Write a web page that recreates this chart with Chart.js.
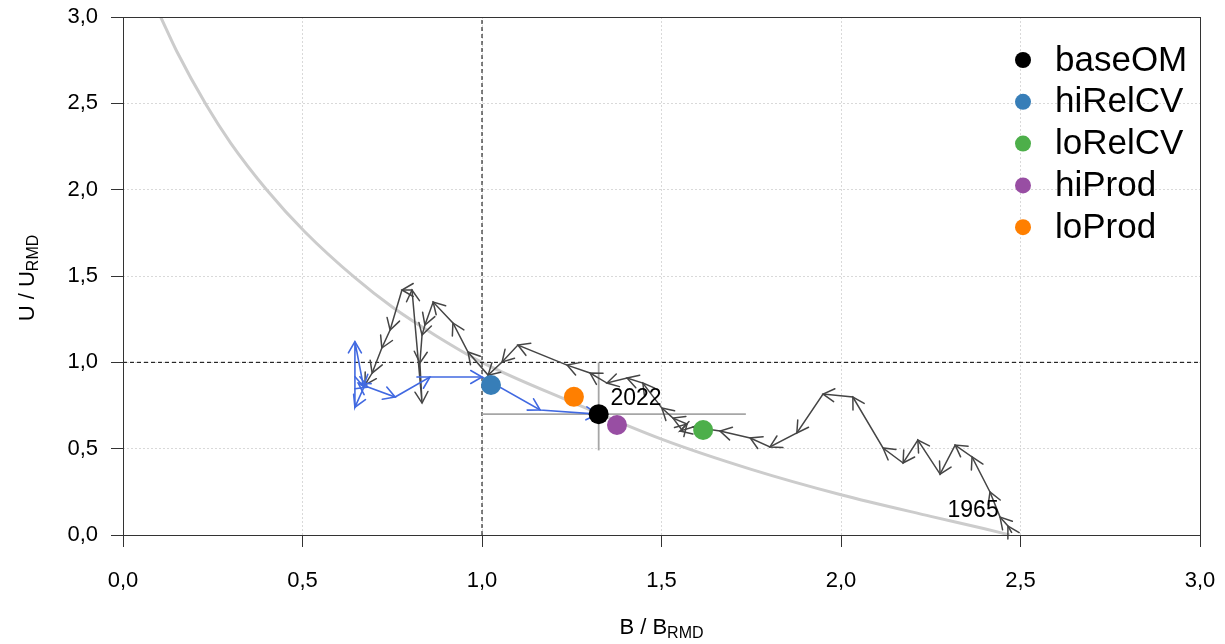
<!DOCTYPE html>
<html><head><meta charset="utf-8">
<script src="https://cdn.jsdelivr.net/npm/chart.js@4.4.1/dist/chart.umd.min.js"></script>
<style>html,body{margin:0;padding:0;background:#fff;}#wrap{width:1225px;height:644px;}</style>
</head><body><div id="wrap"><canvas id="c" width="1225" height="644"></canvas></div>
<script>
// ---- data ----
const axisMin = 0, axisMax = 3, axisStep = 0.5;
const refValue = 1.0;

// equilibrium curve (grey)
const curveB = [0.105,0.15,0.232,0.30,0.40,0.507,0.646,0.75,0.875,1.0,1.25,1.5,1.75,2.0,2.25,2.40,2.47];
const curveU = [3.0,2.80,2.49,2.27,2.0,1.755,1.49,1.32,1.15,1.0,0.77,0.555,0.38,0.233,0.108,0.036,0.0];

// historical trajectory (dark grey arrows), from 1965
const trajB = [2.476,2.465,2.443,2.415,2.365,2.318,2.276,2.214,2.173,2.117,2.033,1.950,1.877,1.802,1.747,1.663,1.588,1.552,1.571,1.532,1.501,1.448,1.404,1.348,1.301,1.237,1.100,1.056,1.017,0.961,0.919,0.864,0.841,0.833,0.827,0.833,0.805,0.777,0.744,0.721,0.694,0.674];
const trajU = [0.012,0.052,0.104,0.249,0.452,0.521,0.353,0.550,0.417,0.504,0.799,0.816,0.591,0.510,0.562,0.602,0.625,0.602,0.643,0.677,0.735,0.880,0.909,0.880,0.938,0.984,1.100,1.002,0.926,1.060,1.228,1.349,1.216,1.158,0.996,0.764,1.419,1.419,1.187,1.083,0.938,0.869];

// recent trajectory (blue arrows), up to 2022
const recentB = [0.674,0.646,0.646,0.670,0.655,0.682,0.758,0.855,1.0,1.162,1.322];
const recentU = [0.869,0.740,1.120,0.860,0.880,0.857,0.799,0.915,0.915,0.724,0.700];

// scenarios
const scenarioNames  = ['baseOM','hiRelCV','loRelCV','hiProd','loProd'];
const scenarioB      = [1.325,1.025,1.616,1.376,1.256];
const scenarioU      = [0.700,0.869,0.608,0.637,0.800];
const scenarioColors = ['#000000','#377EB8','#4DAF4A','#984EA3','#FF7F00'];

// uncertainty cross for baseOM
const ciB = [1.0,1.735];
const ciU = [0.49,1.0];

// year labels
const yearLabels = ['1965','2022'];
const yearB = [2.368,1.429];
const yearU = [0.139,0.788];

// ---- build ----
const FONT = "'Liberation Sans', Arial, Helvetica, sans-serif";
const toPts = (xs, ys) => xs.map((x, i) => ({x: x, y: ys[i]}));
const fmt = v => v.toFixed(1).replace('.', ',');

const datasets = [];
scenarioNames.forEach((n, i) => {
  datasets.push({label: n, data: [{x: scenarioB[i], y: scenarioU[i]}], showLine: false,
    pointRadius: 10, pointHoverRadius: 10, backgroundColor: scenarioColors[i], borderWidth: 0,
    order: 1, isScenario: true});
});
datasets.push({label: 'recent', data: toPts(recentB, recentU), showLine: true, borderColor: '#4169E1',
  borderWidth: 1.6, pointRadius: 0, arrows: true, order: 2});
datasets.push({label: 'trajectory', data: toPts(trajB, trajU), showLine: true, borderColor: '#454545',
  borderWidth: 1.5, pointRadius: 0, arrows: true, order: 3});
datasets.push({label: 'ciB', data: [{x: ciB[0], y: scenarioU[0]}, {x: ciB[1], y: scenarioU[0]}], showLine: true,
  borderColor: '#a6a6a6', borderWidth: 1.8, pointRadius: 0, order: 4});
datasets.push({label: 'ciU', data: [{x: scenarioB[0], y: ciU[0]}, {x: scenarioB[0], y: ciU[1]}], showLine: true,
  borderColor: '#a6a6a6', borderWidth: 1.8, pointRadius: 0, order: 4});
datasets.push({label: 'refX', data: [{x: refValue, y: axisMin}, {x: refValue, y: axisMax}], showLine: true,
  borderColor: '#000', borderWidth: 1, borderDash: [4, 3], pointRadius: 0, order: 5});
datasets.push({label: 'refY', data: [{x: axisMin, y: refValue}, {x: axisMax, y: refValue}], showLine: true,
  borderColor: '#000', borderWidth: 1, borderDash: [4, 3], pointRadius: 0, order: 5});
datasets.push({label: 'curve', data: toPts(curveB, curveU), showLine: true, borderColor: '#cccccc',
  borderWidth: 3, pointRadius: 0, cubicInterpolationMode: 'monotone', order: 6});

const arrowPlugin = {
  id: 'arrows',
  afterDatasetDraw(chart, args) {
    const ds = chart.data.datasets[args.index];
    if (!ds.arrows) return;
    const pts = args.meta.data;
    const ctx = chart.ctx;
    const len = 13, ang = Math.PI / 6;
    ctx.save();
    ctx.strokeStyle = ds.borderColor;
    ctx.lineWidth = ds.borderWidth;
    ctx.lineCap = 'round';
    for (let i = 1; i < pts.length; i++) {
      const x0 = pts[i-1].x, y0 = pts[i-1].y, x1 = pts[i].x, y1 = pts[i].y;
      if (Math.hypot(x1 - x0, y1 - y0) < 0.5) continue;
      const a = Math.atan2(y1 - y0, x1 - x0);
      ctx.beginPath();
      ctx.moveTo(x1 - len * Math.cos(a - ang), y1 - len * Math.sin(a - ang));
      ctx.lineTo(x1, y1);
      ctx.lineTo(x1 - len * Math.cos(a + ang), y1 - len * Math.sin(a + ang));
      ctx.stroke();
    }
    ctx.restore();
  }
};

function drawSubTitle(ctx, main, sub, big, small) {
  ctx.font = big + 'px ' + FONT;
  const w1 = ctx.measureText(main).width;
  ctx.font = small + 'px ' + FONT;
  const w2 = ctx.measureText(sub).width;
  const start = -(w1 + w2) / 2;
  ctx.textAlign = 'left';
  ctx.textBaseline = 'middle';
  ctx.font = big + 'px ' + FONT;
  ctx.fillText(main, start, 0);
  ctx.font = small + 'px ' + FONT;
  ctx.fillText(sub, start + w1, 6);
}

const decorPlugin = {
  id: 'decor',
  afterDraw(chart) {
    const ctx = chart.ctx, a = chart.chartArea;
    const xs = chart.scales.x, ys = chart.scales.y;
    ctx.save();
    // frame
    ctx.strokeStyle = '#333';
    ctx.lineWidth = 1;
    ctx.strokeRect(a.left + 0.5, a.top + 0.5, a.right - a.left, a.bottom - a.top);
    ctx.fillStyle = '#000';
    // year labels
    ctx.font = '23px ' + FONT;
    ctx.textAlign = 'center';
    ctx.textBaseline = 'middle';
    yearLabels.forEach((t, i) => ctx.fillText(t, xs.getPixelForValue(yearB[i]), ys.getPixelForValue(yearU[i])));
    // axis titles
    ctx.save();
    ctx.translate((a.left + a.right) / 2, 628);
    drawSubTitle(ctx, 'B / B', 'RMD', 22, 16);
    ctx.restore();
    ctx.save();
    ctx.translate(28, (a.top + a.bottom) / 2 + 2);
    ctx.rotate(-Math.PI / 2);
    drawSubTitle(ctx, 'U / U', 'RMD', 22, 16);
    ctx.restore();
    // legend
    const lx = a.right - 177, ly0 = a.top + 43, step = 41.8;
    chart.data.datasets.filter(d => d.isScenario).forEach((d, i) => {
      const y = ly0 + i * step;
      ctx.beginPath();
      ctx.fillStyle = d.backgroundColor;
      ctx.arc(lx, y, 8, 0, Math.PI * 2);
      ctx.fill();
      ctx.fillStyle = '#000';
      ctx.font = '35px ' + FONT;
      ctx.textAlign = 'left';
      ctx.textBaseline = 'middle';
      ctx.fillText(d.label, lx + 32, y + 1);
    });
    ctx.restore();
  }
};

const axisCommon = {
  type: 'linear', min: axisMin, max: axisMax,
  ticks: {stepSize: axisStep, callback: v => fmt(v), color: '#000', font: {family: FONT, size: 22}},
  grid: {color: '#d9d9d9', lineWidth: 1, tickLength: 12, tickColor: '#333', tickWidth: 1, tickBorderDash: []},
  border: {display: false, dash: [2, 2]}
};

new Chart(document.getElementById('c'), {
  type: 'scatter',
  data: {datasets: datasets},
  options: {
    responsive: false, animation: false, devicePixelRatio: 1,
    layout: {padding: {left: 0, top: 17, right: 25, bottom: 0}},
    plugins: {legend: {display: false}, tooltip: {enabled: false}},
    elements: {line: {tension: 0}},
    scales: {
      x: Object.assign({}, axisCommon, {
        ticks: Object.assign({}, axisCommon.ticks, {padding: 21}),
        afterFit: s => { s.height = 109; s.paddingLeft = 0; s.paddingRight = 0; }
      }),
      y: Object.assign({}, axisCommon, {
        ticks: Object.assign({}, axisCommon.ticks, {padding: 13}),
        afterFit: s => { s.width = 123; s.paddingTop = 0; s.paddingBottom = 0; }
      })
    }
  },
  plugins: [arrowPlugin, decorPlugin]
});
</script></body></html>
